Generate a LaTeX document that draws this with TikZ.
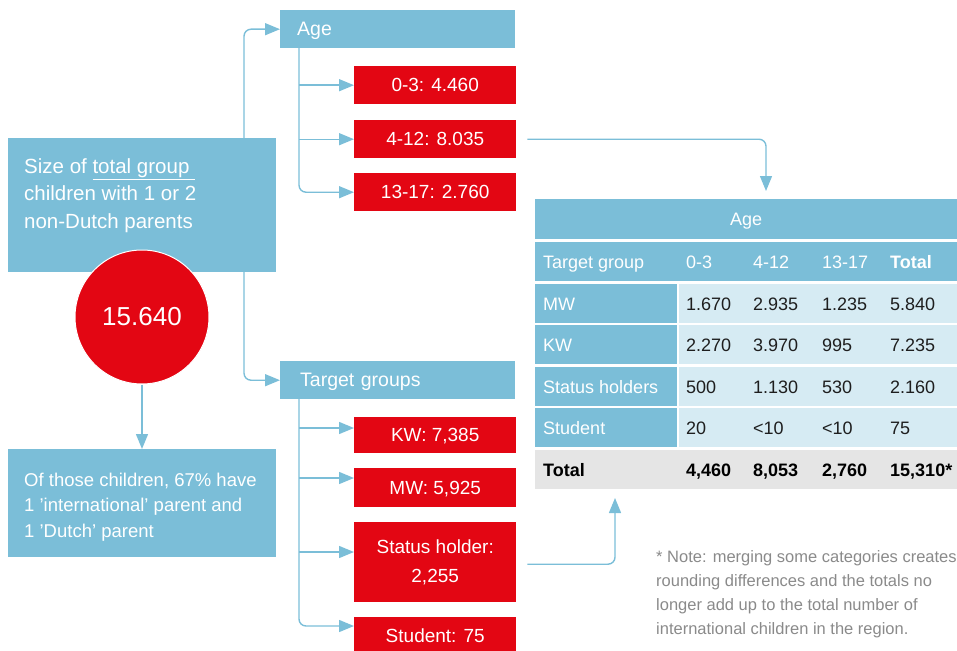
\documentclass[tikz,border=0pt]{standalone}
\usepackage{fontspec}
\setmainfont{Liberation Sans}
\usetikzlibrary{arrows.meta,calc}
\definecolor{cblue}{HTML}{7BBED8}
\definecolor{cred}{HTML}{E30613}
\definecolor{clight}{HTML}{D6EBF3}
\definecolor{cgray}{HTML}{E5E5E5}
\definecolor{cnote}{HTML}{8A8A8A}
\definecolor{cdark}{HTML}{1E1E1E}
\newcommand\fsz[2]{\fontsize{#1}{#2}\selectfont}
\begin{document}
\begin{tikzpicture}[x=1pt,y=-1pt,
  conn/.style={draw=cblue, line width=1.4pt, rounded corners=7pt, -{Triangle[length=15pt,width=12pt]}},
  bluebox/.style={fill=cblue, text=white, inner sep=0pt, anchor=north west},
  redbox/.style={fill=cred, text=white, inner sep=0pt, anchor=north west, minimum width=162pt, align=center, font=\fsz{19}{29.5}},
  lightbox/.style={fill=clight, inner sep=0pt, anchor=north west},
  graybox/.style={fill=cgray, inner sep=0pt, anchor=north west},
  tt/.style={anchor=base west, inner sep=0pt, font=\fsz{18}{20}}]
\useasboundingbox (0,0) rectangle (957,650);

% left boxes
\node[bluebox, minimum width=268pt, minimum height=134pt] (size) at (8,138) {};
\node[anchor=north west, inner sep=0pt, text=white, align=left, font=\fsz{20.5}{27.5}] (sizetxt) at (24,158)
  {Size of \underline{total group\ }\\children with 1 or 2\\non-Dutch parents};
\node[circle, fill=cred, draw=white, line width=1pt, minimum size=134pt, inner sep=0pt, text=white, font=\fsz{26}{30}] (circ) at (142,317) {15.640};
\node[bluebox, minimum width=268pt, minimum height=108pt] (ofbox) at (8,449) {};
\node[anchor=north west, inner sep=0pt, text=white, align=left, font=\fsz{18.5}{25.7}] (oftxt) at (24,472.5)
  {Of those children, 67\% have\\1 'international' parent and\\1 'Dutch' parent};

% Age branch
\node[bluebox, minimum height=38pt, inner xsep=17pt, text width=201pt, text depth=0pt, align=left, font=\fsz{19.5}{22}] (age) at (280,10) {Age};
\node[redbox, minimum height=38pt, text depth=0pt] (a03) at (354,66) {0-3: 4.460};
\node[redbox, minimum height=38pt, text depth=0pt] (a412) at (354,120) {4-12: 8.035};
\node[redbox, minimum height=38pt, text depth=0pt] (a1317) at (354,173) {13-17: 2.760};

% Target branch
\node[bluebox, minimum height=38pt, inner xsep=20pt, text width=195pt, text depth=0pt, align=left, font=\fsz{19.5}{22}] (tg) at (280,361) {Target groups};
\node[redbox, minimum height=36pt, text depth=0pt] (kw) at (354,417) {KW: 7,385};
\node[redbox, minimum height=39pt, text depth=0pt] (mw) at (354,468) {MW: 5,925};
\node[redbox, minimum height=80pt] (sh) at (354,522) {Status holder:\\2,255};
\node[redbox, minimum height=36pt, text depth=0pt] (st) at (354,617) {Student: 75};

% connectors left
\coordinate (sz1) at (244,138);
\coordinate (sz2) at (244,272);
\draw[conn] (sz1) |- (age.west);
\draw[conn] (sz2) |- (tg.west);
\draw[conn] (circ.south) -- (circ.south |- ofbox.north);

\coordinate (ab) at (299,48);
\draw[conn] (ab) |- (a1317.west);
\draw[conn] (ab |- a03.west) -- (a03.west);
\draw[conn] (ab |- a412.west) -- (a412.west);

\coordinate (tb) at (299,399);
\coordinate (kwin) at (354,428);
\coordinate (mwin) at (354,478);
\coordinate (shin) at (354,552);
\coordinate (stin) at (354,626);
\draw[conn] (tb) |- (stin);
\draw[conn] (tb |- kwin) -- (kwin);
\draw[conn] (tb |- mwin) -- (mwin);
\draw[conn] (tb |- shin) -- (shin);

% table
\node[bluebox, minimum width=422pt, minimum height=40pt, text depth=0pt, font=\fsz{18}{20}] (thead) at (535,199) {Age};
\node[bluebox, minimum width=422pt, minimum height=39pt] (trow1) at (535,242) {};
\node[tt, text=white] (h0) at (543,268) {Target group};
\node[tt, text=white] (h1) at (686,268) {0-3};
\node[tt, text=white] (h2) at (753,268) {4-12};
\node[tt, text=white] (h3) at (822,268) {13-17};
\node[tt, text=white, font=\fsz{18}{20}\bfseries] (h4) at (890,268) {Total};

\foreach \top/\name/\a/\b/\c/\d/\k in {284/MW/1.670/2.935/1.235/5.840/2, 325/KW/2.270/3.970/995/7.235/3, 367/Status holders/500/1.130/530/2.160/4, 408/Student/20/<10/<10/75/5} {
  \node[bluebox, minimum width=142pt, minimum height=39pt] (rb\k) at (535,\top) {};
  \node[lightbox, minimum width=278pt, minimum height=39pt] (lb\k) at (679,\top) {};
  \node[tt, text=white] (rh\k) at (543,\top+26) {\name};
  \node[tt, text=cdark] (da\k) at (686,\top+26) {\a};
  \node[tt, text=cdark] (db\k) at (753,\top+26) {\b};
  \node[tt, text=cdark] (dc\k) at (822,\top+26) {\c};
  \node[tt, text=cdark] (dd\k) at (890,\top+26) {\d};
}
\node[graybox, minimum width=422pt, minimum height=39pt] (trow6) at (535,450) {};
\node[tt, font=\fsz{18}{20}\bfseries, text=black] (t0) at (543,476) {Total};
\node[tt, font=\fsz{18}{20}\bfseries, text=black] (t1) at (686,476) {4,460};
\node[tt, font=\fsz{18}{20}\bfseries, text=black] (t2) at (753,476) {8,053};
\node[tt, font=\fsz{18}{20}\bfseries, text=black] (t3) at (822,476) {2,760};
\node[tt, font=\fsz{18}{20}\bfseries, text=black] (t4) at (890,476) {15,310*};

% connectors to table
\coordinate (tabin) at (766,191);
\coordinate (tabin2) at (615,498);
\draw[conn] ([xshift=11pt]a412.east) -| (tabin);
\draw[conn] ([xshift=11pt,yshift=-2pt]sh.east) -| (tabin2);

% note
\node[anchor=north west, inner sep=0pt, align=left, text=cnote, font=\fsz{16.5}{24}] (note) at (656,550)
  {* Note: merging some categories creates\\rounding differences and the totals no\\longer add up to the total number of\\international children in the region.};
\end{tikzpicture}
\end{document}
